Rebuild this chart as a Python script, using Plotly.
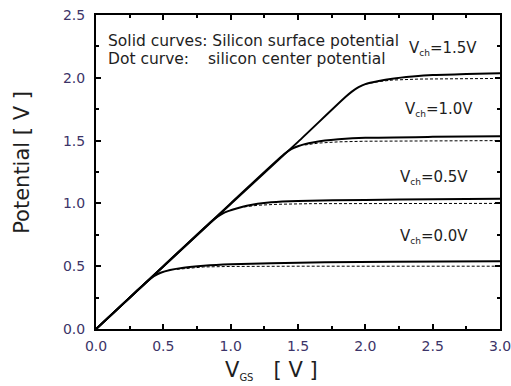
import plotly.graph_objects as go

# ---- data ----
vgs_ch00 = [0.0, 0.1, 0.2, 0.3, 0.38, 0.43, 0.48, 0.55, 0.65, 0.8, 1.0, 1.3, 1.7, 2.2, 3.0]
psi_ch00 = [0.0, 0.1, 0.2, 0.3, 0.378, 0.42, 0.448, 0.47, 0.488, 0.503, 0.515, 0.524, 0.531, 0.536, 0.54]

vgs_ch05 = [0.0, 0.5, 0.85, 0.9, 0.95, 1.0, 1.05, 1.12, 1.2, 1.3, 1.5, 2.0, 2.5, 3.0]
psi_ch05 = [0.0, 0.5, 0.85, 0.893, 0.925, 0.945, 0.962, 0.982, 0.998, 1.01, 1.02, 1.028, 1.033, 1.037]

vgs_ch10 = [0.0, 1.0, 1.4, 1.45, 1.5, 1.55, 1.62, 1.7, 1.8, 2.0, 2.5, 3.0]
psi_ch10 = [0.0, 1.0, 1.395, 1.432, 1.455, 1.472, 1.487, 1.5, 1.51, 1.522, 1.53, 1.535]

vgs_ch15 = [0.0, 1.0, 1.5, 1.85, 1.9, 1.95, 2.0, 2.1, 2.2, 2.35, 2.5, 2.75, 3.0]
psi_ch15 = [0.0, 0.995, 1.49, 1.845, 1.89, 1.925, 1.95, 1.975, 1.993, 2.01, 2.022, 2.03, 2.037]

# center potential (dotted curves)
vgs_c00 = [0.6, 0.7, 0.8, 1.0, 1.5, 3.0]
psi_c00 = [0.475, 0.487, 0.494, 0.498, 0.5, 0.5]
vgs_c05 = [1.1, 1.2, 1.35, 1.6, 3.0]
psi_c05 = [0.972, 0.985, 0.993, 0.998, 1.0]
vgs_c10 = [1.55, 1.65, 1.8, 2.0, 3.0]
psi_c10 = [1.465, 1.48, 1.49, 1.495, 1.5]
vgs_c15 = [2.0, 2.1, 2.2, 2.4, 3.0]
psi_c15 = [1.95, 1.97, 1.982, 1.99, 1.995]

vch_labels = ["0.0", "0.5", "1.0", "1.5"]
label_x = [2.24, 2.24, 2.28, 2.31]
label_y = [0.735, 1.21, 1.745, 2.23]

x_ticks = [0.0, 0.5, 1.0, 1.5, 2.0, 2.5, 3.0]
y_ticks = [0.0, 0.5, 1.0, 1.5, 2.0, 2.5]

FONT = "DejaVu Sans"
TICKCOL = "#3c3468"
TXT = "#1e1e1e"

fig = go.Figure()
for xs, ys in [(vgs_ch00, psi_ch00), (vgs_ch05, psi_ch05), (vgs_ch10, psi_ch10), (vgs_ch15, psi_ch15)]:
    fig.add_trace(go.Scatter(x=xs, y=ys, mode="lines", line=dict(color="black", width=2, shape="spline", smoothing=0.6),
                             showlegend=False, hoverinfo="skip"))
for xs, ys in [(vgs_c00, psi_c00), (vgs_c05, psi_c05), (vgs_c10, psi_c10), (vgs_c15, psi_c15)]:
    fig.add_trace(go.Scatter(x=xs, y=ys, mode="lines", line=dict(color="black", width=1, dash="3px,2px"),
                             showlegend=False, hoverinfo="skip"))

ann = []
for lab, lx, ly in zip(vch_labels, label_x, label_y):
    ann.append(dict(x=lx, y=ly, xref="x", yref="y", xanchor="left", yanchor="middle", showarrow=False,
                    text="V<sub><span style='font-size:9px'>ch</span></sub>=" + lab + "V",
                    font=dict(family=FONT, size=15, color=TXT)))
ann.append(dict(x=0.075, y=2.29, xref="x", yref="y", xanchor="left", yanchor="middle", showarrow=False,
                text="Solid curves: Silicon surface potential", font=dict(family=FONT, size=15.5, color=TXT)))
ann.append(dict(x=0.075, y=2.146, xref="x", yref="y", xanchor="left", yanchor="middle", showarrow=False,
                text="Dot curve:", font=dict(family=FONT, size=15.5, color=TXT)))
ann.append(dict(x=0.82, y=2.146, xref="x", yref="y", xanchor="left", yanchor="middle", showarrow=False,
                text="silicon center potential", font=dict(family=FONT, size=15.5, color=TXT)))
# axis titles
ann.append(dict(x=-0.185, y=0.53, xref="paper", yref="paper", xanchor="center", yanchor="middle", showarrow=False,
                textangle=-90, text="Potential [ V ]", font=dict(family=FONT, size=21, color=TXT)))
ann.append(dict(x=0.435, y=-0.085, xref="paper", yref="paper", xanchor="center", yanchor="top", showarrow=False,
                text="V<sub><span style='font-size:10px'>GS</span></sub>&nbsp;&nbsp;&nbsp;[ V ]",
                font=dict(family=FONT, size=21, color=TXT)))

axis_common = dict(showline=True, linecolor="black", linewidth=2, mirror="allticks", ticks="inside",
                   ticklen=5, tickwidth=2, tickcolor="black", showgrid=False, zeroline=False,
                   automargin=False, ticklabeloverflow="allow",
                   tickfont=dict(family=FONT, size=14, color=TICKCOL))
fig.update_layout(
    template="none",
    width=511, height=386, margin=dict(l=96, r=11, t=15, b=57, pad=0),
    plot_bgcolor="white", paper_bgcolor="white",
    xaxis=dict(range=[0, 3.0], tickvals=x_ticks, ticktext=[f"{v:.1f}" for v in x_ticks],
               ticklabelstandoff=3,
               minor=dict(ticks="inside", ticklen=3, tickwidth=2, tickcolor="black", dtick=0.25, showgrid=False),
               **axis_common),
    yaxis=dict(range=[0, 2.5], tickvals=y_ticks, ticktext=[f"{v:.1f}" for v in y_ticks],
               ticklabelstandoff=6,
               minor=dict(ticks="inside", ticklen=3, tickwidth=2, tickcolor="black", dtick=0.25, showgrid=False),
               **axis_common),
    annotations=ann,
)
fig.write_html("out.html")
